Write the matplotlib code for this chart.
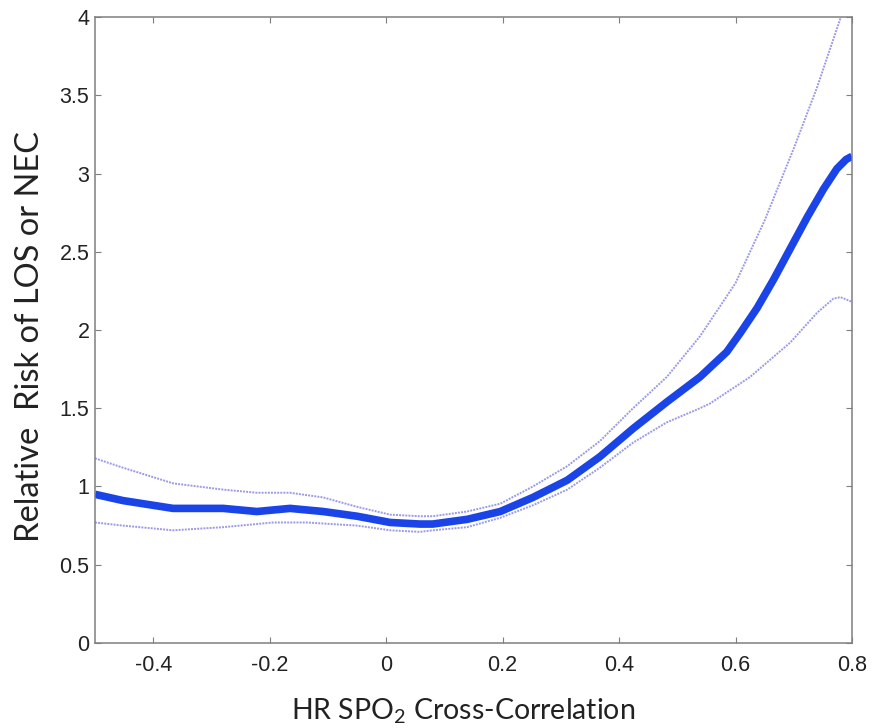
import matplotlib as mpl
import matplotlib.pyplot as plt

mpl.rcParams['mathtext.fontset'] = 'custom'
mpl.rcParams['mathtext.rm'] = 'Lato'
mpl.rcParams['mathtext.default'] = 'regular'

# relative risk curve
x_main = [-0.5, -0.452, -0.366, -0.28, -0.222, -0.165, -0.108, -0.05, 0.007, 0.058,
          0.08, 0.139, 0.196, 0.252, 0.311, 0.367, 0.424, 0.482, 0.539, 0.585,
          0.608, 0.637, 0.665, 0.694, 0.723, 0.751, 0.774, 0.79, 0.8]
y_main = [0.95, 0.91, 0.86, 0.86, 0.84, 0.86, 0.84, 0.81, 0.77, 0.76,
          0.76, 0.79, 0.84, 0.93, 1.04, 1.19, 1.37, 1.54, 1.70, 1.86,
          1.98, 2.14, 2.32, 2.52, 2.72, 2.90, 3.03, 3.09, 3.11]

# upper confidence band
x_upper = [-0.5, -0.452, -0.366, -0.28, -0.222, -0.165, -0.108, -0.05, 0.007, 0.058,
           0.08, 0.139, 0.196, 0.252, 0.311, 0.367, 0.424, 0.482, 0.539, 0.6,
           0.65, 0.7, 0.74, 0.78, 0.8]
y_upper = [1.18, 1.12, 1.02, 0.98, 0.96, 0.96, 0.93, 0.87, 0.82, 0.81,
           0.81, 0.84, 0.89, 1.00, 1.13, 1.29, 1.50, 1.70, 1.96, 2.30,
           2.70, 3.16, 3.55, 3.99, 4.2]

# lower confidence band
x_lower = [-0.5, -0.452, -0.366, -0.28, -0.194, -0.137, -0.05, 0.007, 0.058, 0.08,
           0.139, 0.196, 0.252, 0.311, 0.367, 0.424, 0.482, 0.539, 0.556, 0.625,
           0.694, 0.74, 0.768, 0.78, 0.8]
y_lower = [0.77, 0.75, 0.72, 0.74, 0.77, 0.77, 0.75, 0.72, 0.71, 0.72,
           0.74, 0.80, 0.88, 0.98, 1.12, 1.28, 1.41, 1.50, 1.53, 1.70,
           1.92, 2.11, 2.20, 2.21, 2.18]

x_ticks = [-0.4, -0.2, 0, 0.2, 0.4, 0.6, 0.8]
x_tick_labels = ['-0.4', '-0.2', '0', '0.2', '0.4', '0.6', '0.8']
y_ticks = [0, 0.5, 1, 1.5, 2, 2.5, 3, 3.5, 4]
y_tick_labels = ['0', '0.5', '1', '1.5', '2', '2.5', '3', '3.5', '4']

fig = plt.figure(figsize=(8.74, 7.28), dpi=100)
ax = fig.add_axes([0.1087, 0.1168, 0.8661, 0.8598])

band_color = '#9a9ae8'
ax.plot(x_upper, y_upper, color=band_color, lw=1.4, ls=(0, (1, 0.6)))
ax.plot(x_lower, y_lower, color=band_color, lw=1.4, ls=(0, (1, 0.6)))
ax.plot(x_main, y_main, color='#1a44e8', lw=5.5, solid_joinstyle='round',
        solid_capstyle='butt')

ax.set_xlim(-0.5, 0.8)
ax.set_ylim(0, 4)

ax.set_xticks(x_ticks)
ax.set_xticklabels(x_tick_labels)
ax.set_yticks(y_ticks)
ax.set_yticklabels(y_tick_labels)

for s in ax.spines.values():
    s.set_color('#7f7f7f')
    s.set_linewidth(1.1)

ax.tick_params(direction='in', length=4, width=0.8, color='#7f7f7f',
               top=True, right=True, labelsize=15.5, labelcolor='#222222')
ax.tick_params(axis='x', pad=9)
ax.tick_params(axis='y', pad=4)
for lab in ax.get_xticklabels() + ax.get_yticklabels():
    lab.set_family('Liberation Sans')

ax.set_xlabel('HR SPO$_2$ Cross-Correlation', family='Lato', fontsize=20.5,
              color='#222222')
ax.set_ylabel('Relative  Risk of LOS or NEC', family='Lato', fontsize=23.5,
              color='#222222')
ax.xaxis.set_label_coords(0.486, -0.085)
ax.yaxis.set_label_coords(-0.066, 0.49)

fig.savefig('out.png', dpi=100)
